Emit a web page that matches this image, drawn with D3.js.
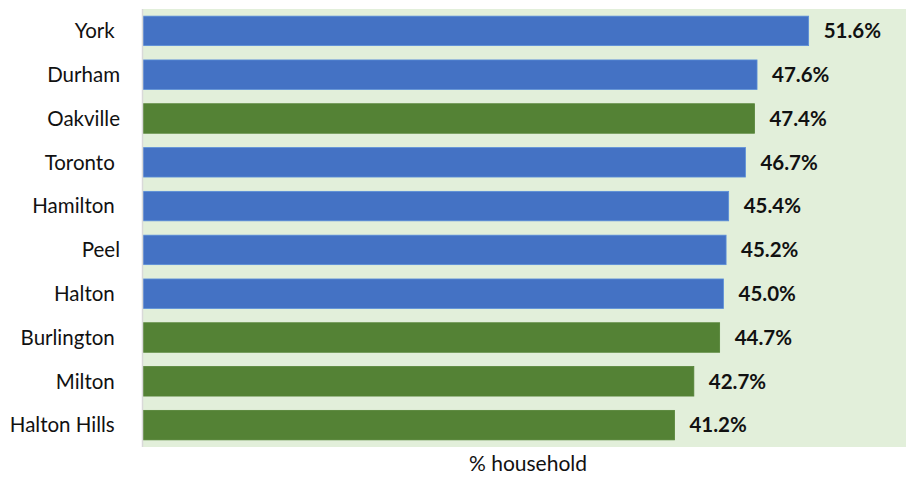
<!DOCTYPE html>
<html><head><meta charset="utf-8">
<script src="https://cdn.jsdelivr.net/npm/d3@7"></script>
<style>
body{margin:0;background:#fff;}
svg text{font-family:Lato,"Noto Sans",sans-serif;white-space:pre;}
</style></head>
<body><svg id="c" width="906" height="477"></svg>
<script>
const categories = ["York ","Durham","Oakville","Toronto ","Hamilton ","Peel","Halton ","Burlington ","Milton ","Halton Hills "];
const values = [51.6,47.6,47.4,46.7,45.4,45.2,45.0,44.7,42.7,41.2];
const groups = ["region","region","town","region","region","region","region","town","town","town"];
const xDomain = [0,60];
const axisTitle = "% household";

(function(){
const svg = d3.select("#c");
const pl = 143, pt = 9, pb = 447;
const x = d3.scaleLinear().domain(xDomain).range([pl, pl + 12.9*60]);
const y = d3.scaleBand().domain(categories).range([pt,pb]).paddingInner(0.327).paddingOuter(0.163);
const color = d => d === "town" ? "#548235" : "#4472C4";
const stroke = d => d === "town" ? "#548235" : "#5B8FD9";

svg.append("rect").attr("x",pl).attr("y",pt).attr("width",906-pl).attr("height",pb-pt).attr("fill","#E2EFDA");

svg.selectAll("rect.bar").data(values).join("rect").attr("class","bar")
  .attr("x",x(0)).attr("y",(d,i)=>y(categories[i]))
  .attr("width",d=>x(d)-x(0)).attr("height",y.bandwidth())
  .attr("fill",(d,i)=>color(groups[i])).attr("stroke",(d,i)=>stroke(groups[i])).attr("stroke-width",0.8);

svg.append("line").attr("x1",pl-0.5).attr("x2",pl-0.5).attr("y1",pt).attr("y2",pb)
  .attr("stroke","#D9D9D9").attr("stroke-width",1.5);

svg.selectAll("text.val").data(values).join("text").attr("class","val")
  .attr("x",d=>x(d)+15).attr("y",(d,i)=>y(categories[i])+y.bandwidth()/2)
  .attr("dy","0.36em").attr("font-size",20.5).attr("font-weight","bold").attr("fill","#111")
  .text(d=>d.toFixed(1)+"%");

svg.selectAll("text.cat").data(categories).join("text").attr("class","cat")
  .attr("x",120).attr("y",d=>y(d)+y.bandwidth()/2).attr("dy","0.36em")
  .attr("text-anchor","end").attr("font-size",20.5).attr("fill","#111").text(d=>d);

svg.append("text").attr("x",528).attr("y",471).attr("text-anchor","middle")
  .attr("font-size",21).attr("fill","#111").text(axisTitle);
})();
</script></body></html>
